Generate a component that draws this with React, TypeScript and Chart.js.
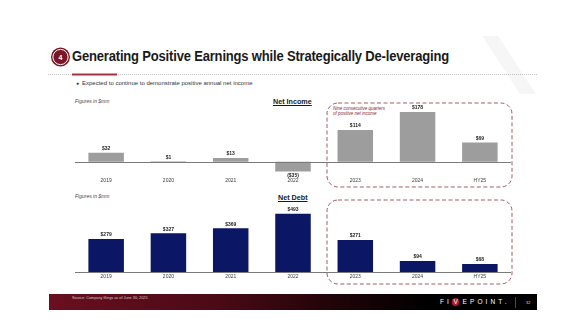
import React, { useEffect, useRef } from "react";
import { Chart, registerables } from "chart.js";

Chart.register(...registerables);

const categories = ["2019", "2020", "2021", "2022", "2023", "2024", "HY25"];
const netIncome = [32, 1, 13, -35, 114, 178, 69];
const netIncomeLabels = ["$32", "$1", "$13", "($35)", "$114", "$178", "$69"];
const netDebt = [279, 327, 369, 493, 271, 94, 68];
const netDebtLabels = ["$279", "$327", "$369", "$493", "$271", "$94", "$68"];

const FONT = "'Liberation Sans', Arial, Helvetica, sans-serif";

type BarProps = {
  values: number[];
  labels: string[];
  color: string;
  yMin: number;
  yMax: number;
  padTop: number;
  tickPad: number;
  width: number;
  height: number;
  style: React.CSSProperties;
};

function BarChart(props: BarProps) {
  const ref = useRef<HTMLCanvasElement | null>(null);
  useEffect(() => {
    if (!ref.current) return;
    const valueLabels = {
      id: "valueLabels",
      afterDatasetsDraw(chart: any) {
        const ctx = chart.ctx;
        const ys = chart.scales.y;
        const xs = chart.scales.x;
        const zero = ys.getPixelForValue(0);
        ctx.save();
        ctx.strokeStyle = "#7a7a7a";
        ctx.lineWidth = 1;
        ctx.beginPath();
        ctx.moveTo(xs.left, Math.round(zero) + 0.5);
        ctx.lineTo(xs.right, Math.round(zero) + 0.5);
        ctx.stroke();
        const meta = chart.getDatasetMeta(0);
        ctx.fillStyle = "#262626";
        ctx.font = `bold 5px ${FONT}`;
        ctx.textAlign = "center";
        meta.data.forEach((bar: any, i: number) => {
          const v = props.values[i];
          if (v >= 0) {
            ctx.textBaseline = "bottom";
            ctx.fillText(props.labels[i], bar.x, bar.y - 1.5);
          } else {
            ctx.textBaseline = "top";
            ctx.fillText(props.labels[i], bar.x, bar.y + 1.5);
          }
        });
        ctx.restore();
      },
    };
    const chart = new Chart(ref.current, {
      type: "bar",
      data: {
        labels: categories,
        datasets: [
          {
            data: props.values,
            backgroundColor: props.color,
            borderWidth: 0,
            categoryPercentage: 1,
            barPercentage: 0.57,
          },
        ],
      },
      options: {
        animation: false,
        responsive: false,
        devicePixelRatio: 1,
        layout: { padding: { left: 15, right: 19, top: props.padTop, bottom: 0 } },
        plugins: { legend: { display: false }, tooltip: { enabled: false } },
        scales: {
          x: {
            grid: { display: false, drawTicks: false },
            border: { display: false },
            ticks: {
              color: "#404040",
              font: { size: 5, family: FONT },
              padding: props.tickPad,
              maxRotation: 0,
            },
          },
          y: {
            display: false,
            min: props.yMin,
            max: props.yMax,
          },
        },
      },
      plugins: [valueLabels],
    });
    return () => chart.destroy();
  }, []);
  return (
    <canvas
      ref={ref}
      width={props.width}
      height={props.height}
      style={{ position: "absolute", width: props.width, height: props.height, ...props.style }}
    />
  );
}

export default function App() {
  const dark = "#7b1627";
  return (
    <div
      style={{
        position: "relative",
        width: 579,
        height: 324,
        margin: -8,
        background: "#ffffff",
        overflow: "hidden",
        fontFamily: FONT,
      }}
    >
      <svg
        width={579}
        height={324}
        style={{ position: "absolute", left: 0, top: 0 }}
      >
        <polygon points="482,36 498,36 536,94 520,94" fill="#f6f6f6" />
        <circle cx={60.5} cy={57} r={9.5} fill={dark} />
        <circle cx={60.5} cy={57} r={7.6} fill="none" stroke="#ffffff" strokeWidth={1} />
        <text
          x={60.5}
          y={59.5}
          textAnchor="middle"
          fontSize={7}
          fontWeight="bold"
          fill="#ffffff"
          fontFamily={FONT}
        >
          4
        </text>
        <line x1={48} y1={74.5} x2={537} y2={74.5} stroke="#9a9a9a" strokeWidth={0.6} strokeDasharray="1 1" />
        <line x1={72} y1={74.5} x2={117} y2={74.5} stroke="#a8313f" strokeWidth={2} />
        <rect x={327} y={103} width={185} height={84} rx={11} ry={11} fill="none" stroke="#9a4753" strokeWidth={0.9} strokeDasharray="4 2.5" />
        <rect x={327} y={200} width={185} height={84} rx={11} ry={11} fill="none" stroke="#9a4753" strokeWidth={0.9} strokeDasharray="4 2.5" />
      </svg>
      <div
        style={{
          position: "absolute",
          left: 72,
          top: 48,
          fontSize: 14,
          fontWeight: "bold",
          color: "#1a1a1a",
          whiteSpace: "nowrap",
          letterSpacing: -0.2,
          transform: "scaleX(0.93)",
          transformOrigin: "left top",
        }}
      >
        Generating Positive Earnings while Strategically De-leveraging
      </div>
      <div
        style={{
          position: "absolute",
          left: 76,
          top: 80,
          fontSize: 6,
          color: "#333333",
          whiteSpace: "nowrap",
        }}
      >
        <span style={{ fontSize: 5, marginRight: 3 }}>●</span>Expected to continue to demonstrate positive annual net income
      </div>
      <div style={{ position: "absolute", left: 75, top: 98, fontSize: 5, fontStyle: "italic", color: "#444" }}>
        Figures in $mm
      </div>
      <div
        style={{
          position: "absolute",
          left: 273,
          top: 97,
          fontSize: 7.2,
          fontWeight: "bold",
          textDecoration: "underline",
          color: "#1a1a1a",
          whiteSpace: "nowrap",
        }}
      >
        Net Income
      </div>
      <div
        style={{
          position: "absolute",
          left: 333,
          top: 105.5,
          fontSize: 4.5,
          lineHeight: "5.5px",
          fontStyle: "italic",
          color: "#8b1a2b",
          whiteSpace: "nowrap",
        }}
      >
        Nine consecutive quarters
        <br />
        of positive net income
      </div>
      <div style={{ position: "absolute", left: 75, top: 193, fontSize: 5, fontStyle: "italic", color: "#444" }}>
        Figures in $mm
      </div>
      <div
        style={{
          position: "absolute",
          left: 278,
          top: 193,
          fontSize: 7.2,
          fontWeight: "bold",
          textDecoration: "underline",
          color: "#1a1a1a",
          whiteSpace: "nowrap",
        }}
      >
        Net Debt
      </div>
      <BarChart
        values={netIncome}
        labels={netIncomeLabels}
        color="#9d9d9d"
        yMin={-48}
        yMax={200}
        padTop={6}
        tickPad={3}
        width={470}
        height={87}
        style={{ left: 60, top: 100 }}
      />
      <BarChart
        values={netDebt}
        labels={netDebtLabels}
        color="#0b1665"
        yMin={0}
        yMax={600}
        padTop={6}
        tickPad={2}
        width={470}
        height={87}
        style={{ left: 60, top: 195 }}
      />
      <div
        style={{
          position: "absolute",
          left: 49,
          top: 294,
          width: 488,
          height: 16,
          background: "linear-gradient(to right, #6a0f20 0%, #4a0a16 35%, #1a0306 62%, #000000 78%)",
        }}
      />
      <div
        style={{
          position: "absolute",
          left: 72,
          top: 296,
          fontSize: 3.8,
          color: "#d8c8cb",
          whiteSpace: "nowrap",
        }}
      >
        Source: Company filings as of June 30, 2025
      </div>
      <div
        style={{
          position: "absolute",
          left: 440,
          top: 298,
          fontSize: 6.5,
          color: "#ffffff",
          letterSpacing: 3.1,
          whiteSpace: "nowrap",
          lineHeight: "8px",
        }}
      >
        FI
        <span
          style={{
            display: "inline-block",
            width: 7.5,
            height: 7.5,
            borderRadius: "50%",
            background: "#b0182c",
            textAlign: "center",
            lineHeight: "7.5px",
            letterSpacing: 0,
            marginRight: 3.1,
            verticalAlign: "top",
          }}
        >
          V
        </span>
        EPOINT.
      </div>
      <div style={{ position: "absolute", left: 515, top: 297, width: 0.8, height: 11, background: "#b0182c" }} />
      <div style={{ position: "absolute", left: 526, top: 300, fontSize: 4, color: "#dddddd" }}>32</div>
    </div>
  );
}
